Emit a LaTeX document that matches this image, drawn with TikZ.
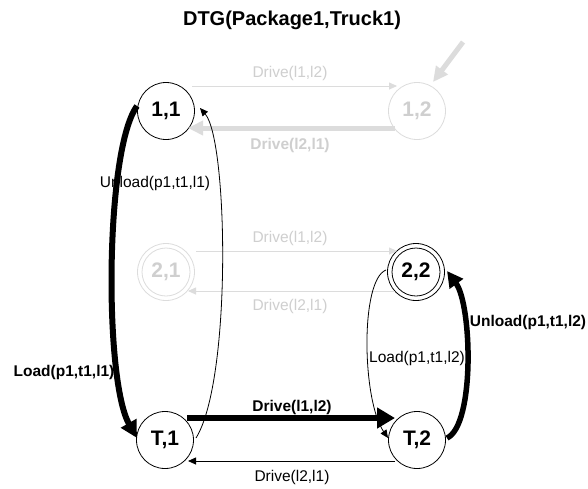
\documentclass[tikz,border=0pt]{standalone}
\usepackage{fontspec}
\setmainfont{Liberation Sans}
\usetikzlibrary{arrows.meta,calc}
\definecolor{lgline}{HTML}{DCDCDC}
\definecolor{lgtext}{HTML}{CFCFCF}
\tikzset{
  st/.style={circle,draw,minimum size=57pt,inner sep=0pt,line width=0.8pt,
    font=\fontsize{21}{21}\selectfont\bfseries},
  faded/.style={draw=lgline,text=lgtext},
  lab/.style={font=\fontsize{15.5}{16}\selectfont},
  blab/.style={font=\fontsize{15.5}{16}\selectfont\bfseries},
  thinarr/.style={line width=0.8pt,-{Triangle[length=8pt,width=7pt]}},
  thickarr/.style={line width=6pt,-{Triangle[length=17pt,width=17pt]}},
  greyarr/.style={line width=5pt,draw=lgline,-{Triangle[length=15pt,width=14pt]}}
}
\begin{document}
\begin{tikzpicture}[x=1pt,y=-1pt]
\useasboundingbox (0,0) rectangle (588,488);
\fill[white] (0,0) rectangle (588,488);
\node[font=\fontsize{20}{20}\selectfont\bfseries] (title) at (292,20) {DTG(Package1,Truck1)};
% nodes
\node[st] (n11) at (166,111) {1,1};
\node[st,faded] (n12) at (417,111) {1,2};
\node[st,faded] (n21) at (166,272) {2,1};
\node[st] (n22) at (416,272) {2,2};
\node[st] (t1) at (165,440) {T,1};
\node[st] (t2) at (417,440) {T,2};
\draw[lgline,line width=0.8pt] (n21.center) circle (24pt);
\draw[line width=0.8pt] (n22.center) circle (24pt);
% top row
\draw[thinarr,lgline] ($(n11.center)+(26,-25)$) -- ($(n12.center)+(-20,-25)$);
\node[lab,text=lgtext] (l1) at (290,73) {Drive(l1,l2)};
\draw[greyarr] ($(n12.center)+(-22,17)$) -- ($(n11.center)+(22,17)$);
\node[blab,text=lgtext] (l2) at (290,145) {Drive(l2,l1)};
\coordinate (ext) at (463,42);
\draw[greyarr] (ext) -- ($(n12.center)+(16,-29)$);
% middle row
\draw[thinarr,lgline] ($(n21.center)+(30,-21)$) -- ($(n22.center)+(-19,-21)$);
\node[lab,text=lgtext] (l3) at (290,238) {Drive(l1,l2)};
\draw[thinarr,lgline] ($(n22.center)+(-21,19)$) -- ($(n21.center)+(22,19)$);
\node[lab,text=lgtext] (l4) at (290,306) {Drive(l2,l1)};
% bottom row
\draw[line width=5.5pt,-{Triangle[length=18pt,width=20pt]}] ($(t1.center)+(22,-22)$) -- ($(t2.center)+(-22,-22)$);
\node[blab] (l5) at (292,407) {Drive(l1,l2)};
\draw[thinarr] ($(t2.center)+(-22,21)$) -- ($(t1.center)+(23,21)$);
\node[lab] (l6) at (292,477) {Drive(l2,l1)};
% curves
\draw[thinarr] ($(t1.center)+(31,-2)$) .. controls (232,380) and (228,140) .. ($(n11.center)+(34,-3)$);
\node[lab,fill=none] (l7) at (155,183) {Unload(p1,t1,l1)};
\draw[thickarr] ($(n11.center)+(-29,-5)$) .. controls (105,150) and (104,380) .. ($(t1.center)+(-28,-2)$);
\node[blab] (l8) at (64,372) {Load(p1,t1,l1)};
\draw[thinarr] ($(n22.center)+(-30,-2)$) .. controls (360,280) and (362,400) .. ($(t2.center)+(-29,-2)$);
\node[lab] (l9) at (417,358) {Load(p1,t1,l2)};
\draw[line width=5.5pt,-{Triangle[length=16pt,width=16pt]}] ($(t2.center)+(30,-2)$) .. controls (475,425) and (472,305) .. ($(n22.center)+(31,-1)$);
\node[blab] (l10) at (528,322) {Unload(p1,t1,l2)};
\end{tikzpicture}
\end{document}
